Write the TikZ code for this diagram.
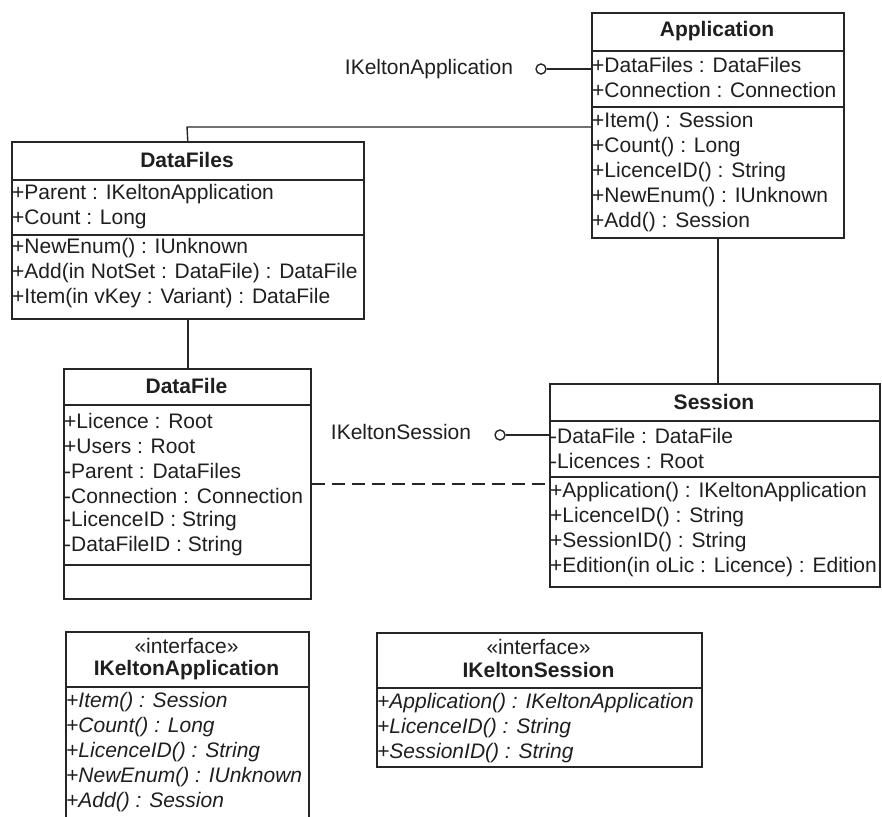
\documentclass[tikz,border=0pt]{standalone}
\usepackage{fontspec}
\setmainfont{Liberation Sans}
\begin{document}
\begin{tikzpicture}[x=1pt,y=-1pt,
  umlbox/.style={rectangle, draw=black!85, line width=1.6pt, fill=white,
                 anchor=north west, inner sep=0pt},
  sep/.style={draw=black!85, line width=1.6pt},
  wire/.style={draw=black!85, line width=1.4pt},
  member/.style={anchor=west, inner sep=0pt, text=black!88,
                 font=\fontsize{21}{25}\selectfont},
  imember/.style={member, font=\fontsize{21}{25}\selectfont\itshape},
  title/.style={anchor=center, inner sep=0pt, text=black!88,
                font=\fontsize{21}{25}\selectfont\bfseries},
  stereo/.style={anchor=center, inner sep=0pt, text=black!88,
                 font=\fontsize{21}{25}\selectfont},
  lolli/.style={circle, draw=black!85, line width=1.4pt, fill=white,
                minimum size=10pt, inner sep=0pt},
  label/.style={anchor=center, inner sep=0pt, text=black!88,
                font=\fontsize{21}{25}\selectfont}
]
\useasboundingbox[fill=white] (0,0) rectangle (882,816);

% ---------- Application ----------
\node[umlbox, minimum width=252pt, minimum height=225pt] (app) at (591,12) {};
\draw[sep] (app.west |- 0,51) -- (app.east |- 0,51);
\draw[sep] (app.west |- 0,107) -- (app.east |- 0,107);
\node[title] (appT) at (717,31) {Application};
\node[member] (app1) at (592,65) {+DataFiles : DataFiles};
\node[member] (app2) at (592,90) {+Connection : Connection};
\node[member] (app3) at (592,122) {+Item() : Session};
\node[member] (app4) at (592,147) {+Count() : Long};
\node[member] (app5) at (592,172) {+LicenceID() : String};
\node[member] (app6) at (592,197) {+NewEnum() : IUnknown};
\node[member] (app7) at (592,222) {+Add() : Session};

% ---------- DataFiles ----------
\node[umlbox, minimum width=352pt, minimum height=177pt] (dfs) at (11,141) {};
\draw[sep] (dfs.west |- 0,180) -- (dfs.east |- 0,180);
\draw[sep] (dfs.west |- 0,235) -- (dfs.east |- 0,235);
\node[title] (dfsT) at (187,160) {DataFiles};
\node[member] (dfs1) at (12,194) {+Parent : IKeltonApplication};
\node[member] (dfs2) at (12,219) {+Count : Long};
\node[member] (dfs3) at (12,248) {+NewEnum() : IUnknown};
\node[member] (dfs4) at (12,273) {+Add(in NotSet : DataFile) : DataFile};
\node[member] (dfs5) at (12,298) {+Item(in vKey : Variant) : DataFile};

% ---------- DataFile ----------
\node[umlbox, minimum width=247pt, minimum height=230pt] (df) at (63,368) {};
\draw[sep] (df.west |- 0,405) -- (df.east |- 0,405);
\draw[sep] (df.west |- 0,565) -- (df.east |- 0,565);
\node[title] (dfT) at (186.5,386) {DataFile};
\node[member] (df1) at (64,421) {+Licence : Root};
\node[member] (df2) at (64,446) {+Users : Root};
\node[member] (df3) at (64,471) {-Parent : DataFiles};
\node[member] (df4) at (64,496) {-Connection : Connection};
\node[member] (df5) at (64,521) {-LicenceID : String};
\node[member] (df6) at (64,546) {-DataFileID : String};

% ---------- Session ----------
\node[umlbox, minimum width=330pt, minimum height=203pt] (ses) at (549,383) {};
\draw[sep] (ses.west |- 0,421) -- (ses.east |- 0,421);
\draw[sep] (ses.west |- 0,477) -- (ses.east |- 0,477);
\node[title] (sesT) at (714,402) {Session};
\node[member] (ses1) at (550,436) {-DataFile : DataFile};
\node[member] (ses2) at (550,461) {-Licences : Root};
\node[member] (ses3) at (550,492) {+Application() : IKeltonApplication};
\node[member] (ses4) at (550,517) {+LicenceID() : String};
\node[member] (ses5) at (550,542) {+SessionID() : String};
\node[member] (ses6) at (550,567) {+Edition(in oLic : Licence) : Edition};

% ---------- IKeltonApplication (interface) ----------
\node[umlbox, minimum width=243pt, minimum height=200pt] (ika) at (65,631) {};
\draw[sep] (ika.west |- 0,687) -- (ika.east |- 0,687);
\node[stereo] (ikaS) at (186.5,646) {«interface»};
\node[title] (ikaT) at (186.5,670) {IKeltonApplication};
\node[imember] (ika1) at (66,702) {+Item() : Session};
\node[imember] (ika2) at (66,727) {+Count() : Long};
\node[imember] (ika3) at (66,752) {+LicenceID() : String};
\node[imember] (ika4) at (66,777) {+NewEnum() : IUnknown};
\node[imember] (ika5) at (66,802) {+Add() : Session};

% ---------- IKeltonSession (interface) ----------
\node[umlbox, minimum width=325pt, minimum height=134pt] (iks) at (376,632) {};
\draw[sep] (iks.west |- 0,688) -- (iks.east |- 0,688);
\node[stereo] (iksS) at (538.5,647) {«interface»};
\node[title] (iksT) at (538.5,670) {IKeltonSession};
\node[imember] (iks1) at (377,703) {+Application() : IKeltonApplication};
\node[imember] (iks2) at (377,728) {+LicenceID() : String};
\node[imember] (iks3) at (377,753) {+SessionID() : String};

% ---------- provided interfaces (lollipops) ----------
\node[lolli] (lapp) at (541,69) {};
\node[label] (lappL) at (429,69) {IKeltonApplication};
\draw[wire] (lapp.east) -- (lapp -| app.west);

\node[lolli] (lses) at (500,435) {};
\node[label] (lsesL) at (401,432) {IKeltonSession};
\draw[wire] (lses.east) -- (lses -| ses.west);

% ---------- associations ----------
\coordinate (bend) at (187,127);
\draw[wire] (bend -| app.west) -- (bend) -- (dfs.north);
\draw[wire] (dfs.south) -- (dfs.south |- df.north);
\draw[wire] (app.south) -- (app.south |- ses.north);

% ---------- dependency ----------
\coordinate (dep) at (0,484);
\draw[wire, dash pattern=on 13pt off 7pt] (dep -| df.east) -- (dep -| ses.west);
\end{tikzpicture}
\end{document}
